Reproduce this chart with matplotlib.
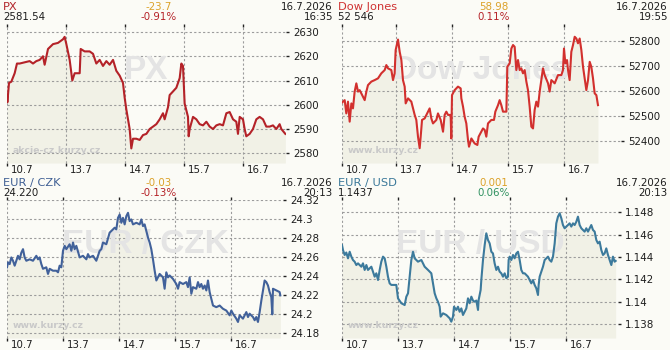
import matplotlib
matplotlib.use("Agg")
import matplotlib.pyplot as plt
from matplotlib.transforms import ScaledTranslation

plt.rcParams['lines.scale_dashes'] = False
plt.rcParams['font.family'] = ['DejaVu Sans']

# ---------------- data ----------------
DAY_LABELS = ["10.7", "13.7", "14.7", "15.7", "16.7"]

# PX (time in trading days since 10.7)
px_t = [0.000, 0.006, 0.034, 0.073, 0.130, 0.169, 0.215, 0.299, 0.384, 0.441, 0.497, 0.554, 0.610, 0.638,
        0.695, 0.780, 0.864, 0.949, 0.977, 1.006, 1.062, 1.107, 1.147, 1.232, 1.249, 1.316, 1.401, 1.458,
        1.514, 1.571, 1.627, 1.684, 1.740, 1.797, 1.853, 1.910, 1.966, 1.994, 2.023, 2.051, 2.079, 2.107,
        2.136, 2.192, 2.249, 2.305, 2.362, 2.418, 2.475, 2.531, 2.588, 2.644, 2.672, 2.729, 2.757, 2.814,
        2.870, 2.927, 2.955, 2.983, 3.011, 3.068, 3.079, 3.096, 3.153, 3.209, 3.266, 3.322, 3.379, 3.435,
        3.492, 3.548, 3.605, 3.661, 3.718, 3.774, 3.831, 3.887, 3.915, 3.944, 4.000, 4.028, 4.056, 4.113,
        4.169, 4.226, 4.282, 4.339, 4.395, 4.452, 4.508, 4.565, 4.621, 4.650, 4.718]
px_v = [2604, 2601, 2609, 2609.5, 2613, 2617, 2617, 2617.5, 2618, 2617, 2618, 2618.5, 2620, 2616.5,
        2623, 2625, 2625.5, 2627, 2628, 2625, 2618.5, 2610, 2613, 2613, 2623, 2622, 2622, 2621,
        2617, 2618.5, 2616, 2618, 2616.5, 2618.5, 2614, 2612, 2609, 2603, 2598, 2594, 2590, 2582,
        2586, 2586, 2585.5, 2587.5, 2588, 2590, 2591, 2592, 2594, 2596.5, 2594, 2599, 2604, 2605.5,
        2607, 2611, 2617, 2616, 2600.5, 2595, 2587, 2590, 2595, 2594, 2592, 2591.5, 2593, 2591,
        2590, 2591.5, 2592, 2591.5, 2596.5, 2597, 2594, 2593, 2588, 2595, 2594, 2590, 2587, 2588,
        2590, 2594, 2595, 2594, 2591, 2591, 2591.5, 2590, 2592, 2590, 2588]

# Dow Jones
dj_t = [0.000, 0.018, 0.048, 0.077, 0.107, 0.137, 0.167, 0.196, 0.226, 0.256, 0.286, 0.315, 0.345, 0.405,
        0.435, 0.464, 0.524, 0.583, 0.643, 0.702, 0.762, 0.792, 0.821, 0.881, 0.911, 0.940, 0.958, 1.000,
        1.030, 1.060, 1.089, 1.119, 1.137, 1.179, 1.238, 1.268, 1.298, 1.327, 1.357, 1.387, 1.405, 1.429,
        1.476, 1.536, 1.565, 1.595, 1.625, 1.685, 1.714, 1.762, 1.804, 1.833, 1.863, 1.893, 1.940, 1.952,
        1.964, 2.012, 2.071, 2.119, 2.131, 2.161, 2.190, 2.220, 2.250, 2.268, 2.310, 2.369, 2.417, 2.440,
        2.488, 2.518, 2.548, 2.577, 2.607, 2.667, 2.714, 2.738, 2.786, 2.815, 2.845, 2.875, 2.935, 2.952,
        2.994, 3.024, 3.054, 3.083, 3.113, 3.143, 3.173, 3.202, 3.232, 3.262, 3.292, 3.321, 3.351, 3.381,
        3.411, 3.440, 3.470, 3.500, 3.530, 3.560, 3.589, 3.619, 3.679, 3.708, 3.738, 3.768, 3.798, 3.857,
        3.917, 3.946, 3.964, 3.988, 4.018, 4.036, 4.065, 4.095, 4.125, 4.155, 4.185, 4.214, 4.244, 4.274,
        4.304, 4.333, 4.363, 4.393, 4.423, 4.452, 4.482, 4.512, 4.542, 4.571]
dj_v = [52553, 52557, 52563, 52510, 52557, 52477, 52550, 52530, 52597, 52630, 52597, 52603, 52590, 52563,
        52597, 52623, 52637, 52643, 52650, 52670, 52683, 52703, 52690, 52683, 52643, 52670, 52763, 52805,
        52756, 52723, 52643, 52617, 52550, 52570, 52557, 52530, 52504, 52484, 52417, 52371, 52417, 52484,
        52490, 52517, 52530, 52490, 52470, 52484, 52510, 52484, 52437, 52504, 52517, 52504, 52504, 52410,
        52583, 52603, 52617, 52610, 52570, 52537, 52497, 52470, 52404, 52377, 52410, 52390, 52384, 52417,
        52437, 52450, 52444, 52417, 52470, 52484, 52484, 52517, 52543, 52563, 52543, 52517, 52517, 52696,
        52710, 52769, 52783, 52776, 52683, 52723, 52683, 52690, 52670, 52683, 52637, 52603, 52537, 52457,
        52450, 52524, 52557, 52537, 52597, 52643, 52690, 52663, 52630, 52597, 52643, 52637, 52630, 52663,
        52663, 52683, 52769, 52710, 52723, 52683, 52643, 52756, 52783, 52816, 52809, 52790, 52809, 52763,
        52696, 52650, 52603, 52643, 52716, 52696, 52650, 52590, 52583, 52543]

# EUR / CZK
cz_t = [0.000, 0.018, 0.048, 0.077, 0.107, 0.137, 0.167, 0.196, 0.226, 0.256, 0.286, 0.315, 0.345, 0.405,
        0.464, 0.524, 0.554, 0.583, 0.613, 0.643, 0.702, 0.732, 0.762, 0.821, 0.881, 0.911, 0.940, 0.970,
        1.000, 1.030, 1.060, 1.119, 1.149, 1.179, 1.208, 1.238, 1.298, 1.357, 1.417, 1.446, 1.476, 1.536,
        1.595, 1.655, 1.685, 1.714, 1.774, 1.833, 1.863, 1.923, 1.952, 1.982, 2.012, 2.042, 2.071, 2.101,
        2.131, 2.161, 2.190, 2.220, 2.250, 2.310, 2.369, 2.399, 2.429, 2.458, 2.488, 2.518, 2.548, 2.577,
        2.607, 2.637, 2.667, 2.696, 2.726, 2.786, 2.815, 2.845, 2.875, 2.905, 2.964, 3.024, 3.054, 3.083,
        3.143, 3.202, 3.232, 3.262, 3.292, 3.321, 3.381, 3.411, 3.440, 3.470, 3.500, 3.530, 3.560, 3.589,
        3.619, 3.649, 3.679, 3.738, 3.798, 3.857, 3.917, 3.976, 4.006, 4.036, 4.095, 4.125, 4.155, 4.214,
        4.274, 4.304, 4.333, 4.393, 4.423, 4.452, 4.482, 4.512, 4.542, 4.571, 4.601, 4.631, 4.661, 4.690,
        4.720, 4.738, 4.750, 4.810, 4.869, 4.881]
cz_v = [24.2496, 24.2548, 24.2530, 24.2600, 24.2565, 24.2513, 24.2565, 24.2617, 24.2580, 24.2650, 24.2687,
        24.2600, 24.2565, 24.2580, 24.2565, 24.2617, 24.2580, 24.2600, 24.2530, 24.2480, 24.2496, 24.2426,
        24.2480, 24.2460, 24.2460, 24.2443, 24.2513, 24.2496, 24.2670, 24.2722, 24.2687, 24.2739, 24.2670,
        24.2757, 24.2687, 24.2722, 24.2600, 24.2617, 24.2580, 24.2635, 24.2600, 24.2617, 24.2565, 24.2670,
        24.2687, 24.2757, 24.2739, 24.2861, 24.2878, 24.2913, 24.2896, 24.3017, 24.3052, 24.2965, 24.3017,
        24.2948, 24.3035, 24.3070, 24.2983, 24.3000, 24.2948, 24.2965, 24.2948, 24.3000, 24.2930, 24.2948,
        24.2878, 24.2809, 24.2757, 24.2687, 24.2580, 24.2460, 24.2357, 24.2390, 24.2426, 24.2390, 24.2270,
        24.2443, 24.2390, 24.2410, 24.2374, 24.2320, 24.2270, 24.2340, 24.2320, 24.2340, 24.2287, 24.2390,
        24.2217, 24.2287, 24.2270, 24.2340, 24.2287, 24.2320, 24.2270, 24.2304, 24.2252, 24.2357, 24.2235,
        24.2165, 24.2093, 24.2076, 24.2093, 24.2059, 24.2040, 24.1990, 24.2040, 24.2007, 24.1955, 24.1920,
        24.1990, 24.1955, 24.2024, 24.1972, 24.2007, 24.1972, 24.1938, 24.1972, 24.1920, 24.2024, 24.2145,
        24.2252, 24.2357, 24.2340, 24.2304, 24.2235, 24.2183, 24.2000, 24.2270, 24.2252, 24.2235, 24.2200]

# EUR / USD
us_t = [0.000, 0.018, 0.048, 0.077, 0.107, 0.137, 0.167, 0.196, 0.226, 0.256, 0.286, 0.345, 0.375, 0.405,
        0.435, 0.464, 0.524, 0.554, 0.583, 0.613, 0.643, 0.673, 0.702, 0.732, 0.762, 0.792, 0.821, 0.851,
        0.881, 0.940, 0.970, 1.000, 1.060, 1.119, 1.149, 1.179, 1.208, 1.238, 1.268, 1.298, 1.327, 1.357,
        1.417, 1.446, 1.476, 1.536, 1.595, 1.625, 1.655, 1.685, 1.714, 1.744, 1.762, 1.804, 1.863, 1.893,
        1.923, 1.952, 1.982, 2.000, 2.042, 2.071, 2.101, 2.131, 2.161, 2.220, 2.250, 2.280, 2.310, 2.339,
        2.369, 2.399, 2.429, 2.440, 2.476, 2.488, 2.518, 2.548, 2.577, 2.607, 2.637, 2.667, 2.696, 2.726,
        2.756, 2.786, 2.815, 2.845, 2.875, 2.905, 2.935, 2.964, 2.976, 2.994, 3.024, 3.054, 3.083, 3.113,
        3.143, 3.173, 3.202, 3.232, 3.262, 3.292, 3.321, 3.351, 3.381, 3.411, 3.440, 3.470, 3.500, 3.512,
        3.530, 3.560, 3.589, 3.619, 3.649, 3.679, 3.708, 3.738, 3.768, 3.798, 3.827, 3.857, 3.887, 3.917,
        3.946, 3.976, 4.006, 4.036, 4.065, 4.095, 4.125, 4.155, 4.185, 4.214, 4.244, 4.274, 4.304, 4.333,
        4.363, 4.393, 4.423, 4.452, 4.482, 4.512, 4.542, 4.571, 4.601, 4.631, 4.661, 4.690, 4.720, 4.750,
        4.780, 4.810, 4.839, 4.869, 4.887]
us_v = [1.14507, 1.14462, 1.14418, 1.14440, 1.14388, 1.14447, 1.14403, 1.14373, 1.14358, 1.14328, 1.14343,
        1.14313, 1.14343, 1.14284, 1.14328, 1.14284, 1.14313, 1.14269, 1.14224, 1.14254, 1.14194, 1.14284,
        1.14358, 1.14403, 1.14388, 1.14313, 1.14224, 1.14164, 1.14150, 1.14150, 1.14150, 1.14030, 1.13986,
        1.13970, 1.14045, 1.14075, 1.14224, 1.14373, 1.14447, 1.14388, 1.14373, 1.14358, 1.14373, 1.14343,
        1.14313, 1.14284, 1.14254, 1.14164, 1.14075, 1.14030, 1.14000, 1.13955, 1.13866, 1.13896, 1.13881,
        1.13866, 1.13851, 1.13821, 1.13866, 1.13955, 1.13926, 1.13955, 1.13910, 1.13940, 1.13881, 1.13940,
        1.14030, 1.13986, 1.14045, 1.14010, 1.14000, 1.14010, 1.13926, 1.14015, 1.14105, 1.14194, 1.14373,
        1.14507, 1.14612, 1.14552, 1.14522, 1.14447, 1.14432, 1.14343, 1.14284, 1.14313, 1.14269, 1.14254,
        1.14224, 1.14254, 1.14210, 1.14224, 1.14373, 1.14403, 1.14373, 1.14418, 1.14388, 1.14432, 1.14447,
        1.14373, 1.14284, 1.14254, 1.14254, 1.14239, 1.14224, 1.14194, 1.14164, 1.14194, 1.14150, 1.14120,
        1.14060, 1.14150, 1.14224, 1.14269, 1.14313, 1.14373, 1.14388, 1.14403, 1.14373, 1.14358, 1.14403,
        1.14522, 1.14701, 1.14761, 1.14791, 1.14746, 1.14686, 1.14657, 1.14672, 1.14686, 1.14701, 1.14672,
        1.14701, 1.14686, 1.14716, 1.14761, 1.14686, 1.14657, 1.14642, 1.14627, 1.14657, 1.14627, 1.14657,
        1.14686, 1.14642, 1.14627, 1.14552, 1.14522, 1.14537, 1.14462, 1.14418, 1.14432, 1.14477, 1.14418,
        1.14373, 1.14328, 1.14403, 1.14358, 1.14365]

PX_TICKS = [2580, 2590, 2600, 2610, 2620, 2630]
DJ_TICKS = [52400, 52500, 52600, 52700, 52800]
CZ_TICKS = [24.18, 24.2, 24.22, 24.24, 24.26, 24.28, 24.3, 24.32]
CZ_LABELS = ["24.18", "24.2", "24.22", "24.24", "24.26", "24.28", "24.3", "24.32"]
US_TICKS = [1.138, 1.14, 1.142, 1.144, 1.146, 1.148]
US_LABELS = ["1.138", "1.14", "1.142", "1.144", "1.146", "1.148"]

PX_DAYS = [0, 1, 2, 3, 4]
DJ_DAYS = [0, 0.958, 1.964, 2.964, 3.964]
FX_DAYS = [0, 1, 2, 3, 4]

# header texts: title, last, change, pct, date, time
PX_HEAD = ("PX", "2581.54", "-23.7", "-0.91%", "16.7.2026", "16:35")
DJ_HEAD = ("Dow Jones", "52 546", "58.98", "0.11%", "16.7.2026", "19:55")
CZ_HEAD = ("EUR / CZK", "24.220", "-0.03", "-0.13%", "16.7.2026", "20:13")
US_HEAD = ("EUR / USD", "1.1437", "0.001", "0.06%", "16.7.2026", "20:13")

# ---------------- style ----------------
W, H = 670, 350
PAGE = "#fbfbf6"
FILL = "#f1f1e6"
GRID = "#9c9c9c"
TXT = "#1e1e1e"
ORANGE = "#dca22a"
RED = "#b52228"
GREEN = "#2f9160"

fig = plt.figure(figsize=(6.7, 3.5), dpi=100, facecolor=PAGE)


def box(l, t, r, b):
    return [l / W, 1 - b / H, (r - l) / W, (b - t) / H]


def header(ox, oy, head, tcolor, pcolor):
    title, last, chg, pct, date, tm = head
    y1 = 1 - (oy + 9.5) / H
    y2 = 1 - (oy + 19.5) / H
    fig.text((ox + 3) / W, y1, title, color=tcolor, fontsize=8.2, va='baseline', ha='left')
    fig.text((ox + 3) / W, y2, last, color=TXT, fontsize=7.4, va='baseline', ha='left')
    fig.text((ox + 159) / W, y1, chg, color=ORANGE, fontsize=7.4, va='baseline', ha='center')
    fig.text((ox + 159) / W, y2, pct, color=pcolor, fontsize=7.4, va='baseline', ha='center')
    fig.text((ox + 333) / W, y1, date, color=TXT, fontsize=7.4, va='baseline', ha='right')
    fig.text((ox + 333) / W, y2, tm, color=TXT, fontsize=7.4, va='baseline', ha='right')


def panel(rect, t, v, xlim, ylim, days, yticks, ylabels, color, mark, site):
    ax = fig.add_axes(box(*rect))
    ax.set_facecolor('none')
    ax.set_xlim(*xlim)
    ax.set_ylim(*ylim)
    ax.fill_between(t, v, ylim[0], color=FILL, lw=0, zorder=1)
    ax.text(0.5, 0.68, mark, transform=ax.transAxes, ha='center', va='center',
            fontsize=24, fontweight='bold', family='Liberation Sans', color='#e4e4e4', zorder=2)
    off = ScaledTranslation(6 / 100, 10 / 100, fig.dpi_scale_trans)
    ax.text(0, 0, site, transform=ax.transAxes + off, ha='left', va='baseline',
            fontsize=6.7, fontweight='bold', color='#c9c9c9', zorder=2)
    ax.plot(t, v, color=color, lw=1.5, zorder=3)
    for s in ax.spines.values():
        s.set_visible(False)
    ax.set_axisbelow('line')
    ax.grid(True, color=GRID, linestyle=(0, (1.6, 1.6)), linewidth=0.8)
    ax.set_xticks(days)
    ax.set_xticklabels(DAY_LABELS)
    ax.set_yticks(yticks)
    ax.set_yticklabels(ylabels)
    ax.yaxis.tick_right()
    ax.tick_params(axis='y', left=False, right=True, direction='out', length=2.5, width=1,
                   color='#222222', pad=2.8, labelsize=7.4, labelcolor=TXT)
    ax.tick_params(axis='x', top=True, bottom=True, direction='out', length=2.5, width=1,
                   color='#222222', pad=-1.2, labelsize=7.4, labelcolor=TXT)
    shift = ScaledTranslation(4 / 100, 0, fig.dpi_scale_trans)
    for lbl in ax.get_xticklabels():
        lbl.set_ha('left')
        lbl.set_transform(lbl.get_transform() + shift)
    return ax


# PX
header(0, 0, PX_HEAD, "#b3262c", RED)
panel((7, 27, 286, 163), px_t, px_v, (0, 4.729), (2575.99, 2632.06), PX_DAYS,
      PX_TICKS, [str(x) for x in PX_TICKS], "#b42228", "PX", "akcie-cz.kurzy.cz")

# Dow Jones
header(335, 0, DJ_HEAD, "#cf3232", RED)
panel((342, 27, 621, 163), dj_t, dj_v, (0, 4.982), (52312, 52855), DJ_DAYS,
      DJ_TICKS, [str(x) for x in DJ_TICKS], "#d2302e", "Dow Jones", "www.kurzy.cz")

# EUR / CZK
header(0, 176.5, CZ_HEAD, "#3f5f94", RED)
panel((7, 200, 283, 338), cz_t, cz_v, (0, 4.929), (24.1751, 24.3205), FX_DAYS,
      CZ_TICKS, CZ_LABELS, "#41619a", "EUR / CZK", "www.kurzy.cz")

# EUR / USD
header(335, 176.5, US_HEAD, "#3a7899", GREEN)
panel((342, 200, 618, 338), us_t, us_v, (0, 4.929), (1.13675, 1.1491), FX_DAYS,
      US_TICKS, US_LABELS, "#3c7a9c", "EUR / USD", "www.kurzy.cz")

fig.savefig("out.png", dpi=100, facecolor=PAGE)
